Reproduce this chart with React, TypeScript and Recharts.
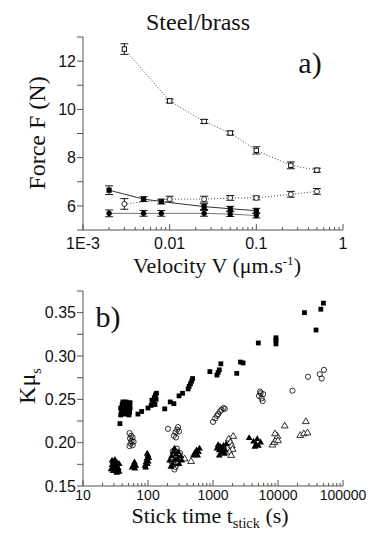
import React from 'react';
import { ComposedChart, Scatter, XAxis, YAxis, ErrorBar } from 'recharts';

// ---------- Panel a: Force vs velocity ----------
const velMajor = [0.001, 0.01, 0.1, 1];
const velMajorLabels = ['1E-3', '0.01', '0.1', '1'];
const velMinor = [0.002, 0.003, 0.004, 0.005, 0.006, 0.007, 0.008, 0.009, 0.02, 0.03, 0.04, 0.05, 0.06, 0.07, 0.08, 0.09, 0.2, 0.3, 0.4, 0.5, 0.6, 0.7, 0.8, 0.9];
const forceMajor = [6, 8, 10, 12];
const forceMinor = [5, 7, 9, 11, 13];

const openSqV = [0.003, 0.01, 0.025, 0.05, 0.1, 0.25, 0.5];
const openSqF = [12.5, 10.35, 9.5, 9.02, 8.3, 7.68, 7.48];
const openSqE = [0.22, 0.08, 0.08, 0.08, 0.15, 0.14, 0.08];

const openCircV = [0.003, 0.01, 0.025, 0.05, 0.1, 0.25, 0.5];
const openCircF = [6.08, 6.28, 6.28, 6.33, 6.33, 6.48, 6.6];
const openCircE = [0.22, 0.12, 0.12, 0.1, 0.08, 0.12, 0.12];

const fillSqV = [0.002, 0.005, 0.008, 0.025, 0.05, 0.1];
const fillSqF = [6.65, 6.28, 6.18, 5.97, 5.88, 5.8];
const fillSqE = [0.18, 0.1, 0.1, 0.12, 0.1, 0.1];

const fillCircV = [0.002, 0.005, 0.008, 0.025, 0.05, 0.1];
const fillCircF = [5.69, 5.69, 5.69, 5.69, 5.66, 5.6];
const fillCircE = [0.14, 0.12, 0.12, 0.12, 0.1, 0.1];

// ---------- Panel b: K mu_s vs stick time ----------
const tMajor = [10, 100, 1000, 10000, 100000];
const tMajorLabels = ['10', '100', '1000', '10000', '100000'];
const tMinor = [20, 30, 40, 50, 60, 70, 80, 90, 200, 300, 400, 500, 600, 700, 800, 900, 2000, 3000, 4000, 5000, 6000, 7000, 8000, 9000, 20000, 30000, 40000, 50000, 60000, 70000, 80000, 90000];
const kMajor = [0.15, 0.2, 0.25, 0.3, 0.35];
const kMajorLabels = ['0.15', '0.20', '0.25', '0.30', '0.35'];
const kMinor = [0.175, 0.225, 0.275, 0.325, 0.375];

const squaresB: [number, number][] = [
  [37, 0.222], [38, 0.232], [38, 0.240], [39, 0.236], [40, 0.244], [40, 0.233], [41, 0.247],
  [42, 0.238], [42, 0.234], [43, 0.242], [44, 0.246], [45, 0.235], [45, 0.240], [46, 0.247],
  [47, 0.233], [48, 0.244], [49, 0.237], [50, 0.246], [50, 0.241], [52, 0.235], [52, 0.244],
  [53, 0.240], [53, 0.246], [51, 0.232],
  [70, 0.233], [80, 0.236], [100, 0.240], [112, 0.243], [115, 0.249], [120, 0.246],
  [125, 0.252], [130, 0.255], [133, 0.250], [128, 0.244], [135, 0.257],
  [181, 0.239], [220, 0.247], [250, 0.245], [300, 0.254], [340, 0.257],
  [415, 0.262], [430, 0.265], [450, 0.268], [470, 0.271], [485, 0.274],
  [895, 0.282], [1150, 0.278], [1200, 0.281], [1250, 0.284], [1320, 0.291],
  [2320, 0.280], [2650, 0.293], [2900, 0.292],
  [4980, 0.315], [9300, 0.314], [9300, 0.318], [9300, 0.321],
  [25500, 0.350], [38500, 0.330], [45600, 0.354], [50000, 0.361],
];

const circlesB: [number, number][] = [
  [52, 0.211], [55, 0.208], [53, 0.205], [58, 0.206], [56, 0.202], [60, 0.201], [54, 0.199],
  [58, 0.197], [52, 0.196],
  [203, 0.216], [250, 0.208], [265, 0.212], [280, 0.215], [290, 0.218], [300, 0.213], [270, 0.206],
  [230, 0.178], [250, 0.175], [265, 0.172], [290, 0.176], [270, 0.183], [300, 0.181],
  [240, 0.190], [280, 0.193], [310, 0.188], [255, 0.169],
  [1000, 0.224], [1080, 0.228], [1150, 0.231], [1200, 0.233], [1280, 0.236], [1350, 0.238],
  [1450, 0.240], [1520, 0.239],
  [5100, 0.254], [5400, 0.257], [5600, 0.251], [5800, 0.248], [5300, 0.259], [5900, 0.256],
  [16700, 0.260], [29000, 0.276], [44000, 0.279], [47000, 0.274], [51000, 0.284],
];

const filledTriB: [number, number][] = [
  [27, 0.170], [28, 0.175], [29, 0.168], [30, 0.172], [30, 0.178], [31, 0.181], [32, 0.169],
  [33, 0.174], [34, 0.177], [35, 0.171], [36, 0.167], [28, 0.180], [33, 0.166], [36, 0.176],
  [31, 0.173], [29, 0.178], [34, 0.172],
  [57, 0.172], [60, 0.175], [62, 0.178], [63, 0.171], [65, 0.174],
  [90, 0.174], [93, 0.178], [96, 0.182], [100, 0.186], [98, 0.176], [92, 0.172], [103, 0.183],
  [97, 0.188], [101, 0.179],
  [215, 0.180], [230, 0.185], [245, 0.190], [255, 0.194], [270, 0.187], [285, 0.182], [300, 0.176],
  [320, 0.185], [240, 0.176], [260, 0.181], [225, 0.173], [290, 0.190], [330, 0.180],
  [500, 0.186], [530, 0.189], [560, 0.192], [600, 0.190], [580, 0.186], [620, 0.194],
  [1150, 0.194], [1200, 0.198], [1250, 0.192], [1300, 0.196], [1350, 0.189], [1400, 0.193],
  [1450, 0.197], [1500, 0.188], [1550, 0.192], [1250, 0.186], [1600, 0.199],
  [3600, 0.206], [4200, 0.202], [4600, 0.199], [5000, 0.197], [5400, 0.201], [4800, 0.205], [4400, 0.196],
];

const openTriB: [number, number][] = [
  [365, 0.182], [460, 0.179],
  [1750, 0.205], [1850, 0.201], [1950, 0.197], [2000, 0.193], [1800, 0.190], [2050, 0.208], [1900, 0.186],
  [8200, 0.198], [8800, 0.201], [9300, 0.204], [9800, 0.208], [9000, 0.211], [10000, 0.203],
  [12700, 0.220], [26800, 0.225], [22000, 0.209], [25000, 0.211], [28500, 0.212],
];

// ---------- build tables ----------
const buildA = (xs: number[], ys: number[], es: number[]) => xs.map((x, i) => ({ x, y: ys[i], e: es[i] }));
const buildB = (pts: [number, number][]) => pts.map(([x, y]) => ({ x, y }));

const openSqData = buildA(openSqV, openSqF, openSqE);
const openCircData = buildA(openCircV, openCircF, openCircE);
const fillSqData = buildA(fillSqV, fillSqF, fillSqE);
const fillCircData = buildA(fillCircV, fillCircF, fillCircE);

const sqB = buildB(squaresB);
const circB = buildB(circlesB);
const ftriB = buildB(filledTriB);
const otriB = buildB(openTriB);

// ---------- styles ----------
const FRAME = '#555';
const SANS = '"Liberation Sans", Arial, sans-serif';
const SERIF = '"Liberation Serif", "DejaVu Serif", serif';

const isIn = (arr: number[], v: number) => arr.some((a) => Math.abs(a - v) < 1e-9 * Math.max(1, Math.abs(a)));
const labelOf = (arr: number[], labels: string[], v: number) => {
  const i = arr.findIndex((a) => Math.abs(a - v) < 1e-9 * Math.max(1, Math.abs(a)));
  return i >= 0 ? labels[i] : '';
};

const makeBottomTick = (major: number[], labels: string[], fs: number, dy: number) => (p: any) => {
  const { x, y, payload } = p;
  const isMaj = isIn(major, payload.value);
  return (
    <g>
      <line x1={x} x2={x} y1={y} y2={y - (isMaj ? 6 : 3)} stroke={FRAME} strokeWidth={1} />
      {isMaj && (
        <text x={x} y={y + dy} textAnchor="middle" fontFamily={SANS} fontSize={fs} fill="#111">
          {labelOf(major, labels, payload.value)}
        </text>
      )}
    </g>
  );
};
const makeTopTick = (major: number[]) => (p: any) => {
  const { x, y, payload } = p;
  const isMaj = isIn(major, payload.value);
  return <line x1={x} x2={x} y1={y} y2={y + (isMaj ? 6 : 3)} stroke={FRAME} strokeWidth={1} />;
};
const makeLeftTick = (major: number[], labels: string[], fs: number) => (p: any) => {
  const { x, y, payload } = p;
  const isMaj = isIn(major, payload.value);
  return (
    <g>
      <line x1={x} x2={x - 6} y1={y} y2={y} stroke={FRAME} strokeWidth={1} />
      {isMaj && (
        <text x={x - 7} y={y} dy="0.36em" textAnchor="end" fontFamily={SANS} fontSize={fs} fill="#111">
          {labelOf(major, labels, payload.value)}
        </text>
      )}
    </g>
  );
};
const makeRightTick = (major: number[]) => (p: any) => {
  const { x, y, payload } = p;
  const isMaj = isIn(major, payload.value);
  return <line x1={x} x2={x - (isMaj ? 6 : 3)} y1={y} y2={y} stroke={FRAME} strokeWidth={1} />;
};

// markers
const OpenSquare = (p: any) => <rect x={p.cx - 2.2} y={p.cy - 2.2} width={4.4} height={4.4} fill="#fff" stroke="#000" strokeWidth={0.9} />;
const FillSquare = (p: any) => <rect x={p.cx - 2.6} y={p.cy - 2.6} width={5.2} height={5.2} fill="#000" />;
const OpenCircle = (p: any) => <circle cx={p.cx} cy={p.cy} r={2.5} fill="#fff" stroke="#000" strokeWidth={0.8} />;
const FillCircle = (p: any) => <circle cx={p.cx} cy={p.cy} r={2.7} fill="#000" />;
const SqB = (p: any) => <rect x={p.cx - 2.4} y={p.cy - 2.4} width={4.8} height={4.8} fill="#000" />;
const CircB = (p: any) => <circle cx={p.cx} cy={p.cy} r={2.6} fill="none" stroke="#000" strokeWidth={0.8} />;
const FTriB = (p: any) => (
  <polygon points={`${p.cx},${p.cy - 3.2} ${p.cx + 3.4},${p.cy + 2.6} ${p.cx - 3.4},${p.cy + 2.6}`} fill="#000" />
);
const OTriB = (p: any) => (
  <polygon points={`${p.cx},${p.cy - 3.2} ${p.cx + 3.4},${p.cy + 2.6} ${p.cx - 3.4},${p.cy + 2.6}`} fill="#fff" stroke="#000" strokeWidth={0.8} />
);
const Nothing = () => <g />;

const Lbl = ({ x, y, size, rotate, children }: any) => (
  <div
    style={{
      position: 'absolute',
      left: x,
      top: y,
      transform: `translate(-50%, -50%)${rotate ? ` rotate(${rotate}deg)` : ''}`,
      fontSize: size,
      lineHeight: 1,
      fontFamily: SERIF,
      whiteSpace: 'nowrap',
      color: '#111',
    }}
  >
    {children}
  </div>
);

const errProps = { dataKey: 'e', width: 4, stroke: '#000', strokeWidth: 0.9, direction: 'y' as const };

export default function App() {
  const velAll = [...velMajor, ...velMinor].sort((a, b) => a - b);
  const forceAll = [...forceMajor, ...forceMinor].sort((a, b) => a - b);
  const tAll = [...tMajor, ...tMinor].sort((a, b) => a - b);
  const kAll = [...kMajor, ...kMinor].sort((a, b) => a - b);

  return (
    <div style={{ position: 'absolute', left: 0, top: 0, width: 382, height: 540, background: '#fff', overflow: 'hidden' }}>
      <div style={{ position: 'absolute', left: 0, top: 0 }}>
        <ComposedChart width={382} height={270} margin={{ top: 37, right: 39, bottom: 0, left: 0 }}>
          <XAxis xAxisId="b" type="number" dataKey="x" scale="log" domain={[0.001, 1]} allowDataOverflow
            ticks={velAll} interval={0} height={40} tickLine={false} tickSize={0} tickMargin={0}
            axisLine={{ stroke: FRAME }} tick={makeBottomTick(velMajor, velMajorLabels, 16, 19)} />
          <XAxis xAxisId="t" orientation="top" type="number" dataKey="x" scale="log" domain={[0.001, 1]} allowDataOverflow
            ticks={velAll} interval={0} height={0} tickLine={false} tickSize={0} tickMargin={0}
            axisLine={{ stroke: FRAME }} tick={makeTopTick(velMajor)} />
          <YAxis yAxisId="l" type="number" dataKey="y" domain={[5, 13]} allowDataOverflow ticks={forceAll} interval={0}
            width={83} tickLine={false} tickSize={0} tickMargin={0} axisLine={{ stroke: FRAME }}
            tick={makeLeftTick(forceMajor, forceMajor.map(String), 16)} />
          <YAxis yAxisId="r" orientation="right" type="number" dataKey="y" domain={[5, 13]} allowDataOverflow ticks={forceAll} interval={0}
            width={0} tickLine={false} tickSize={0} tickMargin={0} axisLine={{ stroke: FRAME }}
            tick={makeRightTick(forceMajor)} />
          <Scatter xAxisId="t" yAxisId="r" data={openSqData} shape={Nothing} isAnimationActive={false} />
          <Scatter xAxisId="b" yAxisId="l" data={fillCircData} shape={FillCircle} isAnimationActive={false}
            line={{ stroke: '#777', strokeWidth: 1 }} lineType="joint">
            <ErrorBar {...errProps} />
          </Scatter>
          <Scatter xAxisId="b" yAxisId="l" data={fillSqData} shape={FillSquare} isAnimationActive={false}
            line={{ stroke: '#333', strokeWidth: 1 }} lineType="joint">
            <ErrorBar {...errProps} />
          </Scatter>
          <Scatter xAxisId="b" yAxisId="l" data={openCircData} shape={OpenCircle} isAnimationActive={false}
            line={{ stroke: '#444', strokeWidth: 1, strokeDasharray: '1 2' }} lineType="joint">
            <ErrorBar {...errProps} />
          </Scatter>
          <Scatter xAxisId="b" yAxisId="l" data={openSqData} shape={OpenSquare} isAnimationActive={false}
            line={{ stroke: '#444', strokeWidth: 1, strokeDasharray: '1 2' }} lineType="joint">
            <ErrorBar {...errProps} />
          </Scatter>
        </ComposedChart>
      </div>
      <div style={{ position: 'absolute', left: 0, top: 270 }}>
        <ComposedChart width={382} height={270} margin={{ top: 21, right: 39, bottom: 0, left: 0 }}>
          <XAxis xAxisId="b" type="number" dataKey="x" scale="log" domain={[10, 100000]} allowDataOverflow
            ticks={tAll} interval={0} height={54} tickLine={false} tickSize={0} tickMargin={0}
            axisLine={{ stroke: FRAME }} tick={makeBottomTick(tMajor, tMajorLabels, 14, 14)} />
          <XAxis xAxisId="t" orientation="top" type="number" dataKey="x" scale="log" domain={[10, 100000]} allowDataOverflow
            ticks={tAll} interval={0} height={0} tickLine={false} tickSize={0} tickMargin={0}
            axisLine={{ stroke: FRAME }} tick={makeTopTick(tMajor)} />
          <YAxis yAxisId="l" type="number" dataKey="y" domain={[0.15, 0.375]} allowDataOverflow ticks={kAll} interval={0}
            width={83} tickLine={false} tickSize={0} tickMargin={0} axisLine={{ stroke: FRAME }}
            tick={makeLeftTick(kMajor, kMajorLabels, 16)} />
          <YAxis yAxisId="r" orientation="right" type="number" dataKey="y" domain={[0.15, 0.375]} allowDataOverflow ticks={kAll} interval={0}
            width={0} tickLine={false} tickSize={0} tickMargin={0} axisLine={{ stroke: FRAME }}
            tick={makeRightTick(kMajor)} />
          <Scatter xAxisId="t" yAxisId="r" data={sqB} shape={Nothing} isAnimationActive={false} />
          <Scatter xAxisId="b" yAxisId="l" data={circB} shape={CircB} isAnimationActive={false} />
          <Scatter xAxisId="b" yAxisId="l" data={otriB} shape={OTriB} isAnimationActive={false} />
          <Scatter xAxisId="b" yAxisId="l" data={ftriB} shape={FTriB} isAnimationActive={false} />
          <Scatter xAxisId="b" yAxisId="l" data={sqB} shape={SqB} isAnimationActive={false} />
        </ComposedChart>
      </div>

      <Lbl x={198} y={22} size={24}>Steel/brass</Lbl>
      <Lbl x={310} y={63} size={30}>a)</Lbl>
      <Lbl x={37} y={133} size={24} rotate={-90}>Force F (N)</Lbl>
      <Lbl x={217} y={266} size={22}>
        Velocity V (μm.s<sup style={{ fontSize: '0.6em', verticalAlign: 'super', lineHeight: 0 }}>-1</sup>)
      </Lbl>
      <Lbl x={108} y={317} size={30}>b)</Lbl>
      <Lbl x={27} y={386} size={24} rotate={-90}>
        Kμ<sub style={{ fontSize: '0.6em', verticalAlign: 'sub', lineHeight: 0 }}>s</sub>
      </Lbl>
      <Lbl x={210} y={516} size={22}>
        Stick time t<sub style={{ fontSize: '0.65em', verticalAlign: 'sub', lineHeight: 0 }}>stick</sub> (s)
      </Lbl>
    </div>
  );
}
